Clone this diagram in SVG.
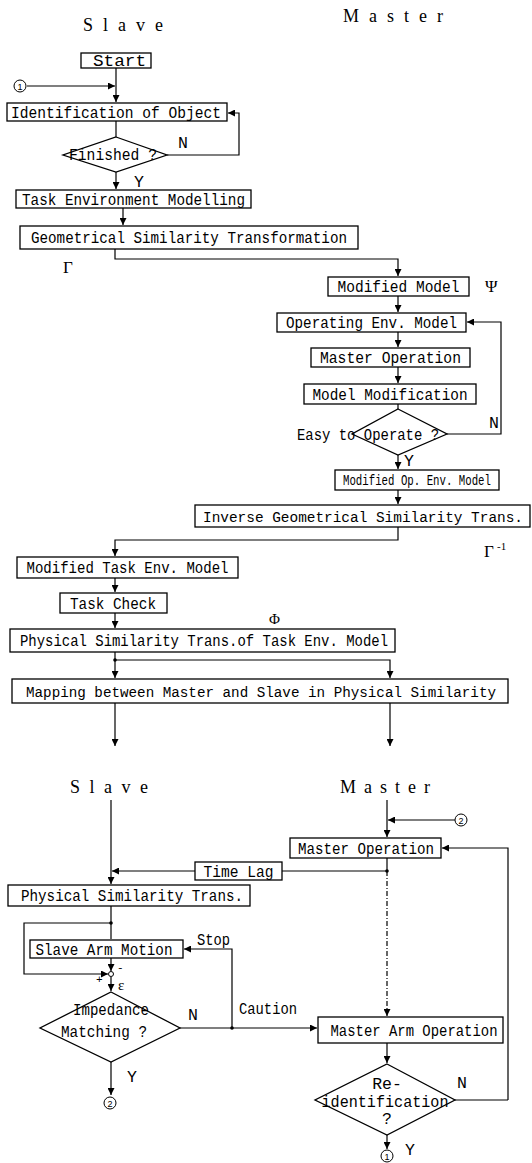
<svg xmlns="http://www.w3.org/2000/svg" width="532" height="1163" viewBox="0 0 532 1163">
<style>
.bx{fill:#fff;stroke:#000;stroke-width:1.3}
.t{font-family:"Liberation Mono","DejaVu Sans Mono",monospace;font-size:16.5px;fill:#000}
.m{text-anchor:middle}
.h{font-family:"Liberation Serif","DejaVu Serif",serif;font-size:18px;fill:#000}
.g{font-family:"Liberation Serif","DejaVu Serif",serif;font-size:17px;fill:#000}
.c{fill:none;stroke:#000;stroke-width:1.2}
.d{fill:none;stroke:#000;stroke-width:1.2;stroke-dasharray:5 2 1 2}
.ci{fill:#fff;stroke:#000;stroke-width:1}
.ct{font-family:"Liberation Sans","DejaVu Sans",sans-serif;font-size:9px;fill:#000;text-anchor:middle}
</style>
<defs>
<marker id="a" viewBox="0 0 10 10" refX="10" refY="5" markerWidth="7" markerHeight="7" markerUnits="userSpaceOnUse" orient="auto"><path d="M0,0 L10,5 L0,10 z" fill="#000"/></marker>
</defs>
<rect width="532" height="1163" fill="#fff"/>

<g id="titles">
<text class="h" x="83" y="31" textLength="80" lengthAdjust="spacing">Slave</text>
<text class="h" x="343" y="22" textLength="100" lengthAdjust="spacing">Master</text>
<text class="h" x="70" y="793" textLength="78" lengthAdjust="spacing">Slave</text>
<text class="h" x="340" y="793" textLength="90" lengthAdjust="spacing">Master</text>
</g>

<g id="connectors">
<path class="c" d="M116,68 V102" marker-end="url(#a)"/>
<path class="c" d="M27,86 H115" marker-end="url(#a)"/>
<path class="c" d="M116,121 V137"/>
<path class="c" d="M167,155 H239 V113 H228" marker-end="url(#a)"/>
<path class="c" d="M116,172 V189" marker-end="url(#a)"/>
<path class="c" d="M123,208 V225" marker-end="url(#a)"/>
<path class="c" d="M115,249 V259 H398 V276" marker-end="url(#a)"/>
<path class="c" d="M398,296 V312" marker-end="url(#a)"/>
<path class="c" d="M398,332 V347" marker-end="url(#a)"/>
<path class="c" d="M398,367 V383" marker-end="url(#a)"/>
<path class="c" d="M398,404 V409"/>
<path class="c" d="M447,434 H501 V322 H467" marker-end="url(#a)"/>
<path class="c" d="M398,455 V469" marker-end="url(#a)"/>
<path class="c" d="M398,490 V504" marker-end="url(#a)"/>
<path class="c" d="M398,527 V540 H115 V556" marker-end="url(#a)"/>
<path class="c" d="M115,578 V592" marker-end="url(#a)"/>
<path class="c" d="M115,613 V628" marker-end="url(#a)"/>
<path class="c" d="M115,652 V678" marker-end="url(#a)"/>
<path class="c" d="M115,660 H390 V678" marker-end="url(#a)"/>
<circle cx="115" cy="660" r="1.8" fill="#000"/>
<path class="c" d="M115,703 V746" marker-end="url(#a)"/>
<path class="c" d="M390,703 V746" marker-end="url(#a)"/>
<path class="c" d="M111,800 V884" marker-end="url(#a)"/>
<path class="c" d="M195,871 H112" marker-end="url(#a)"/>
<path class="c" d="M387,800 V837" marker-end="url(#a)"/>
<path class="c" d="M455,820 H388" marker-end="url(#a)"/>
<path class="c" d="M387,858 V871 H282"/>
<circle cx="387" cy="871" r="1.8" fill="#000"/>
<path class="d" d="M387,871 V1016" marker-end="url(#a)"/>
<path class="c" d="M508,1100 V848 H442" marker-end="url(#a)"/>
<path class="c" d="M111,906 V939"/>
<circle cx="111" cy="923" r="1.8" fill="#000"/>
<path class="c" d="M111,923 H24 V974 H108" marker-end="url(#a)"/>
<path class="c" d="M111,958 V971" marker-end="url(#a)"/>
<circle class="ci" cx="111" cy="974" r="2.5"/>
<path class="c" d="M111,977 V991" marker-end="url(#a)"/>
<path class="c" d="M180,1028 H317" marker-end="url(#a)"/>
<circle cx="232" cy="1028" r="1.8" fill="#000"/>
<path class="c" d="M232,1028 V949 H184" marker-end="url(#a)"/>
<path class="c" d="M387,1043 V1063" marker-end="url(#a)"/>
<path class="c" d="M455,1100 H508"/>
<path class="c" d="M111,1062 V1095" marker-end="url(#a)"/>
<path class="c" d="M387,1135 V1149" marker-end="url(#a)"/>
</g>

<g id="n-start"><rect class="bx" x="81" y="53" width="70" height="15"/><text class="t m" x="119.5" y="65.5" textLength="53" lengthAdjust="spacingAndGlyphs">Start</text></g>
<g id="n-c1"><circle class="ci" cx="20" cy="86" r="6"/><text class="ct" x="20" y="89.5">1</text></g>
<g id="n-ident"><rect class="bx" x="7" y="103" width="220" height="18"/><text class="t m" x="116" y="118" textLength="210" lengthAdjust="spacingAndGlyphs">Identification of Object</text></g>
<g id="n-finished"><polygon class="bx" points="116,137 167,155 116,172 63,155"/><text class="t m" x="113" y="160" textLength="88" lengthAdjust="spacingAndGlyphs">Finished ?</text><text class="t" x="178" y="148">N</text><text class="t" x="134" y="187">Y</text></g>
<g id="n-taskenv"><rect class="bx" x="16" y="190" width="235" height="18"/><text class="t m" x="133.5" y="205" textLength="223" lengthAdjust="spacingAndGlyphs">Task Environment Modelling</text></g>
<g id="n-geo"><rect class="bx" x="20" y="226" width="338" height="23"/><text class="t m" x="189" y="243" textLength="316" lengthAdjust="spacingAndGlyphs">Geometrical Similarity Transformation</text><text class="g" x="63" y="273">Γ</text></g>
<g id="n-modmodel"><rect class="bx" x="328" y="277" width="141" height="19"/><text class="t m" x="398.5" y="292" textLength="122" lengthAdjust="spacingAndGlyphs">Modified Model</text><text class="g" x="485" y="292">Ψ</text></g>
<g id="n-openv"><rect class="bx" x="277" y="313" width="189" height="19"/><text class="t m" x="371.5" y="327.5" textLength="171" lengthAdjust="spacingAndGlyphs">Operating Env. Model</text></g>
<g id="n-masterop1"><rect class="bx" x="311" y="348" width="159" height="19"/><text class="t m" x="390.5" y="363" textLength="141" lengthAdjust="spacingAndGlyphs">Master Operation</text></g>
<g id="n-modmod"><rect class="bx" x="304" y="384" width="172" height="20"/><text class="t m" x="390" y="399.5" textLength="155" lengthAdjust="spacingAndGlyphs">Model Modification</text></g>
<g id="n-easy"><polygon class="bx" points="398,409 447,434 398,455 352,434"/><text class="t m" x="368" y="440" textLength="142" lengthAdjust="spacingAndGlyphs">Easy to Operate ?</text><text class="t" x="489" y="428">N</text><text class="t" x="404" y="466">Y</text></g>
<g id="n-modopenv"><rect class="bx" x="335" y="470" width="164" height="20"/><text class="t m" x="563.5" y="485.5" style="font-size:15px" transform="scale(0.74,1)" textLength="200" lengthAdjust="spacingAndGlyphs">Modified Op. Env. Model</text></g>
<g id="n-inverse"><rect class="bx" x="195" y="505" width="335" height="22"/><text class="t m" x="363" y="521.5" style="font-size:14px" textLength="320" lengthAdjust="spacingAndGlyphs">Inverse Geometrical Similarity Trans.</text><text class="g" x="484" y="557">Γ</text><text class="g" x="497" y="550" style="font-size:11px">-1</text></g>
<g id="n-modtask"><rect class="bx" x="17" y="557" width="221" height="21"/><text class="t m" x="127.5" y="573" textLength="202" lengthAdjust="spacingAndGlyphs">Modified Task Env. Model</text></g>
<g id="n-taskcheck"><rect class="bx" x="60" y="593" width="107" height="20"/><text class="t m" x="113" y="608.5" textLength="86" lengthAdjust="spacingAndGlyphs">Task Check</text><text class="g" x="269" y="624" style="font-size:15px">Φ</text></g>
<g id="n-phys1"><rect class="bx" x="10" y="629" width="385" height="23"/><text class="t m" x="204" y="646" textLength="368" lengthAdjust="spacingAndGlyphs">Physical Similarity Trans.of Task Env. Model</text></g>
<g id="n-mapping"><rect class="bx" x="12" y="679" width="496" height="24"/><text class="t m" x="261" y="697" style="font-size:14px" textLength="470" lengthAdjust="spacingAndGlyphs">Mapping between Master and Slave in Physical Similarity</text></g>

<g id="n-c2a"><circle class="ci" cx="461" cy="820" r="6"/><text class="ct" x="461" y="823.5">2</text></g>
<g id="n-masterop2"><rect class="bx" x="290" y="838" width="151" height="20"/><text class="t m" x="366" y="853.5" textLength="136" lengthAdjust="spacingAndGlyphs">Master Operation</text></g>
<g id="n-timelag"><rect class="bx" x="195" y="862" width="87" height="18"/><text class="t m" x="238.5" y="876.5" textLength="70" lengthAdjust="spacingAndGlyphs">Time Lag</text></g>
<g id="n-phys2"><rect class="bx" x="8" y="885" width="242" height="21"/><text class="t m" x="132" y="901" textLength="222" lengthAdjust="spacingAndGlyphs">Physical Similarity Trans.</text></g>
<g id="n-slavearm"><rect class="bx" x="30" y="940" width="153" height="18"/><text class="t m" x="104" y="955" textLength="137" lengthAdjust="spacingAndGlyphs">Slave Arm Motion</text><text class="t" x="197" y="945" textLength="33" lengthAdjust="spacingAndGlyphs">Stop</text></g>
<g id="n-sum"><text class="t" x="117" y="971" style="font-size:11px">-</text><text class="t" x="96" y="983" style="font-size:11px">+</text><text class="g" x="118" y="990" style="font-size:15px">ε</text></g>
<g id="n-imped"><polygon class="bx" points="111,992 180,1028 111,1062 40,1028"/><text class="t m" x="111" y="1015" textLength="76" lengthAdjust="spacingAndGlyphs">Impedance</text><text class="t m" x="104" y="1037" textLength="86" lengthAdjust="spacingAndGlyphs">Matching ?</text><text class="t" x="188" y="1020">N</text><text class="t" x="127" y="1082">Y</text><text class="t" x="239" y="1014" textLength="58" lengthAdjust="spacingAndGlyphs">Caution</text></g>
<g id="n-c2b"><circle class="ci" cx="110" cy="1103" r="6"/><text class="ct" x="110" y="1106.5">2</text></g>
<g id="n-masterarm"><rect class="bx" x="318" y="1017" width="185" height="26"/><text class="t m" x="414" y="1036" textLength="167" lengthAdjust="spacingAndGlyphs">Master Arm Operation</text></g>
<g id="n-reid"><polygon class="bx" points="387,1064 455,1100 387,1135 315,1100"/><text class="t m" x="387" y="1089">Re-</text><text class="t m" x="385" y="1107" textLength="127" lengthAdjust="spacingAndGlyphs">identification</text><text class="t m" x="387" y="1124">?</text><text class="t" x="457" y="1088">N</text><text class="t" x="405" y="1155">Y</text></g>
<g id="n-c1b"><circle class="ci" cx="387" cy="1156" r="6"/><text class="ct" x="387" y="1159.5">1</text></g>
</svg>
